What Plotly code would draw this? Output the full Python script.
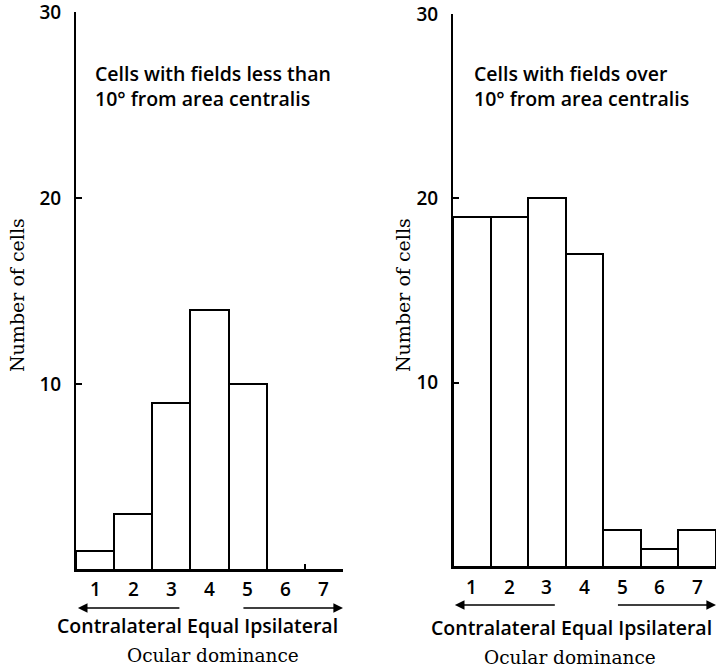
import plotly.graph_objects as go

categories = [1, 2, 3, 4, 5, 6, 7]
tick_labels = ["1", "2", "3", "4", "5", "6", "7"]
near_counts = [1, 3, 9, 14, 10, 0, 0]
far_counts = [19, 19, 20, 17, 2, 1, 2]
y_ticks = [10, 20, 30]
near_title = "Cells with fields less than<br>10° from area centralis"
far_title = "Cells with fields over<br>10° from area centralis"
dominance_text = "Contralateral Equal Ipsilateral"
x_title = "Ocular dominance"
y_title = "Number of cells"

W, H = 719, 670
SANS = "Open Sans"
SERIF = "DejaVu Serif"

def px_x(p):
    return p / W

def px_y(p):
    return (H - p) / H

fig = go.Figure()
for counts, xa, ya in [(near_counts, "x", "y"), (far_counts, "x2", "y2")]:
    fig.add_trace(go.Bar(
        x=categories, y=counts, xaxis=xa, yaxis=ya, width=1,
        marker=dict(color="white", line=dict(color="black", width=2)),
        showlegend=False, hoverinfo="skip"))

bounds = [c - 0.5 for c in categories] + [categories[-1] + 0.5]
xcommon = dict(range=[0.5, 7.5], showline=True, linecolor="black", linewidth=2,
               tickvals=bounds, ticks="inside", ticklen=6, tickwidth=2, tickcolor="black",
               showticklabels=False, showgrid=False, zeroline=False, fixedrange=True)
ycommon = dict(range=[0, 30], showline=True, linecolor="black", linewidth=2,
               tickvals=y_ticks, ticks="inside", ticklen=6, tickwidth=2, tickcolor="black",
               tickfont=dict(family=SANS, size=19, color="black", weight=600),
               ticklabelstandoff=9, ticklabeloverflow="allow",
               showgrid=False, zeroline=False, fixedrange=True)

fig.update_layout(
    width=W, height=H, margin=dict(l=0, r=0, t=0, b=0, autoexpand=False),
    plot_bgcolor="white", paper_bgcolor="white", bargap=0,
    xaxis=dict(domain=[px_x(76), px_x(343)], anchor="y", **xcommon),
    yaxis=dict(domain=[px_y(570), px_y(12)], anchor="x", **ycommon),
    xaxis2=dict(domain=[px_x(453), px_x(716)], anchor="y2", **xcommon),
    yaxis2=dict(domain=[px_y(567), px_y(14)], anchor="x2", **ycommon),
)

ann = []
panels = [
    ("x", near_title, 93, 589, 608, 625, 655, 17, 197, 213),
    ("x2", far_title, 472, 587, 605, 627, 657, 403, 571, 570),
]
for xa, title, tx, num_y, arr_y, dom_y, xt_y, yt_x, dom_x, xt_x in panels:
    for c, lab in zip(categories, tick_labels):
        ann.append(dict(x=c, xref=xa, y=px_y(num_y), yref="paper", text=lab,
                        xanchor="center", yanchor="middle", showarrow=False,
                        font=dict(family=SANS, size=19, color="black", weight=600)))
    # arrows
    ann.append(dict(x=0.55, xref=xa, y=px_y(arr_y), yref="paper", ax=3.25, axref=xa,
                    ay=0, ayref="pixel", showarrow=True, arrowhead=2, arrowsize=1.2,
                    arrowwidth=1.6, arrowcolor="black", text=""))
    ann.append(dict(x=7.5, xref=xa, y=px_y(arr_y), yref="paper", ax=4.85, axref=xa,
                    ay=0, ayref="pixel", showarrow=True, arrowhead=2, arrowsize=1.2,
                    arrowwidth=1.6, arrowcolor="black", text=""))
    ann.append(dict(x=px_x(dom_x), xref="paper", y=px_y(dom_y), yref="paper",
                    text=dominance_text, showarrow=False, xanchor="center", yanchor="middle",
                    font=dict(family=SANS, size=19.5, color="black", weight=600)))
    ann.append(dict(x=px_x(xt_x), xref="paper", y=px_y(xt_y), yref="paper",
                    text=x_title, showarrow=False, xanchor="center", yanchor="middle",
                    font=dict(family=SERIF, size=18.5, color="black")))
    ann.append(dict(x=px_x(yt_x), xref="paper", y=px_y(295), yref="paper",
                    text=y_title, showarrow=False, textangle=-90,
                    xanchor="center", yanchor="middle",
                    font=dict(family=SERIF, size=19, color="black")))
    ann.append(dict(x=px_x(tx), xref="paper", y=px_y(86), yref="paper",
                    text=title, showarrow=False, xanchor="left", yanchor="middle", align="left",
                    font=dict(family=SANS, size=19.5, color="black", weight=600)))
fig.update_layout(annotations=ann)

fig.write_html("out.html", config={"displayModeBar": False},
               post_script="document.body.style.margin='0px';")
